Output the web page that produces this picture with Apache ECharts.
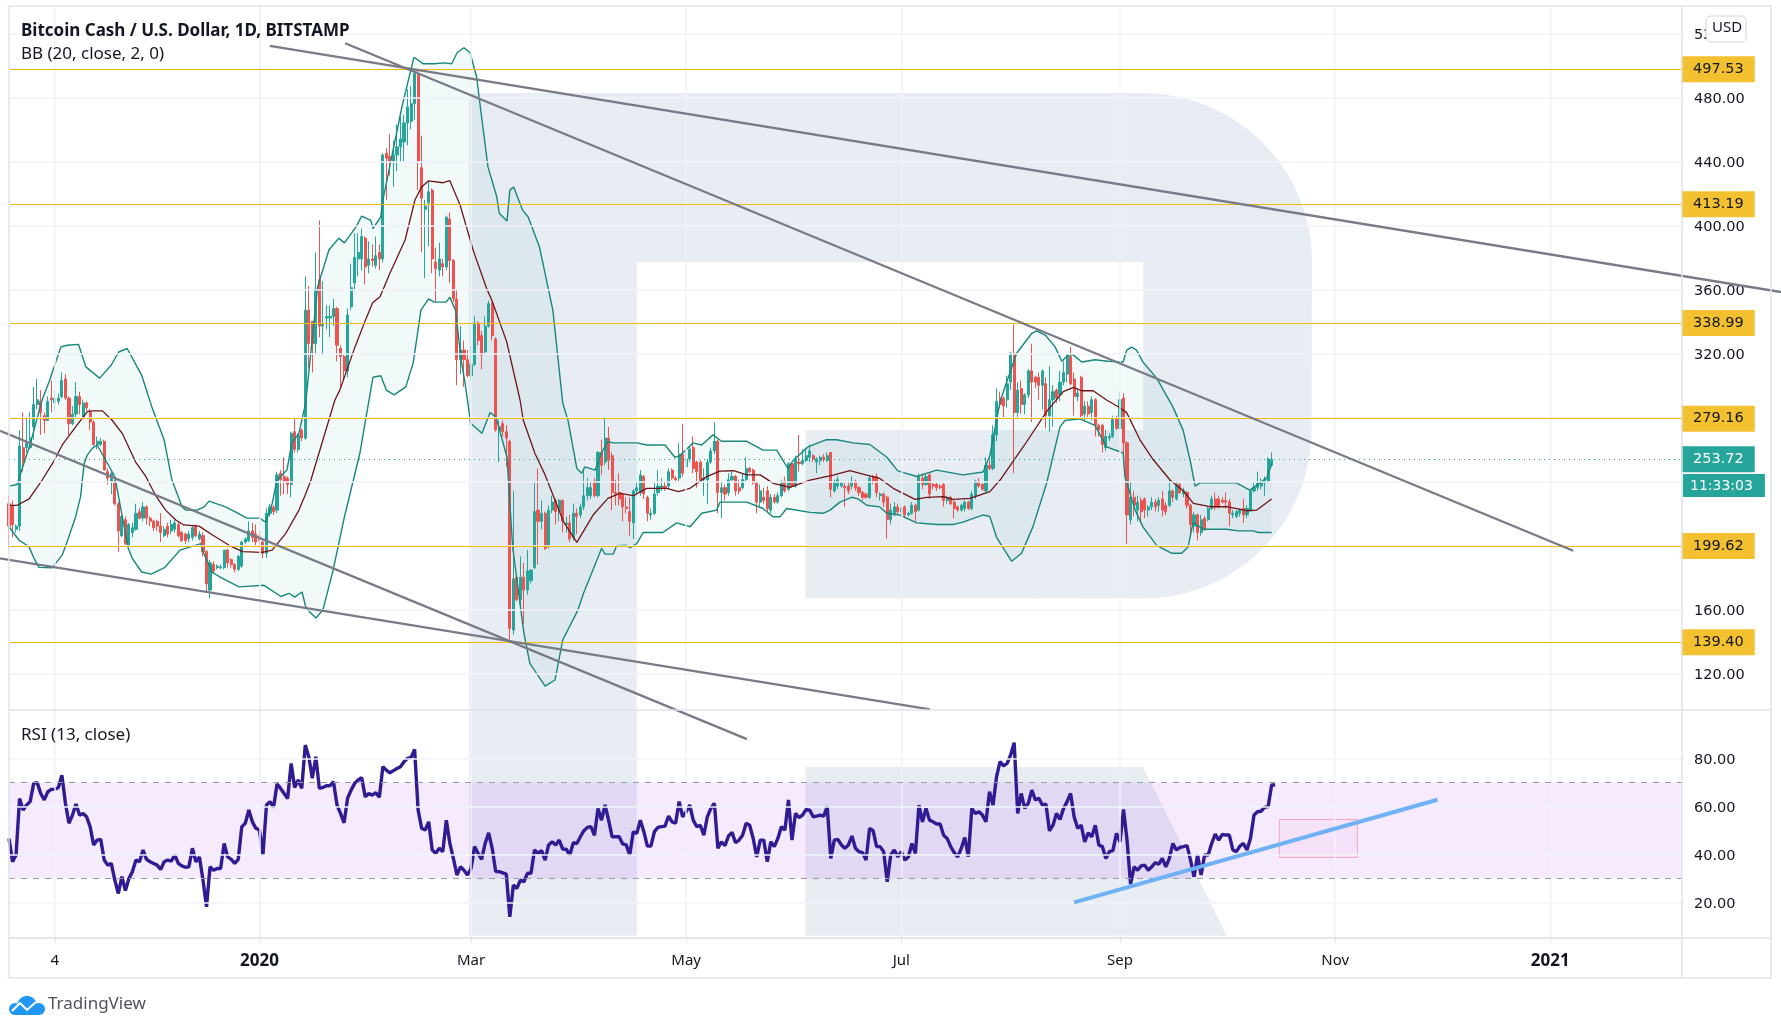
<!DOCTYPE html>
<html>
<head>
<meta charset="utf-8">
<style>html,body{margin:0;padding:0;background:#fff}#chart{width:1781px;height:1030px}</style>
<script src="https://cdn.jsdelivr.net/npm/echarts@6/dist/echarts.min.js"></script>
</head>
<body>
<div id="chart"></div>
<script>
// x axis is days since 2020-01-01
var firstCandleDay = -71
var xTickDays = [-58, 0, 60, 121, 182, 244, 305, 366]
var xTickLabels = ['4', '2020', 'Mar', 'May', 'Jul', 'Sep', 'Nov', '2021']
var priceGridValues = [520, 480, 440, 400, 360, 320, 280, 240, 200, 160, 120]
var priceTickLabels = [520, 480, 440, 400, 360, 320, 160, 120]
var rsiTicks = [80, 60, 40, 20]
var levels = [497.53, 413.19, 338.99, 279.16, 199.62, 139.40]
var lastPrice = 253.72

// open, close, low, high
var candles = [
[226,212,198,231],[225,213,205,228],[210,212,208,213],[212,262,209,272],[261,252,246,283],[261,264,258,280],[261,267,260,283],[274,288,266,299],
[288,291,285,304],[290,283,269,297],[281,278,270,283],[278,290,278,293],[292,291,283,303],[289,292,284,297],[290,292,288,295],[293,303,292,308],
[304,292,291,307],[292,276,269,293],[276,282,275,287],[282,293,280,302],[293,288,282,296],[280,289,279,291],[289,286,284,290],[283,277,272,285],
[277,263,262,278],[263,265,260,268],[263,265,262,267],[265,247,247,266],[246,242,238,248],[240,245,232,247],[240,226,225,241],[226,209,196,227],
[206,218,205,219],[216,201,200,218],[200,213,199,214],[208,211,205,214],[210,220,209,226],[221,217,216,223],[217,224,215,227],[224,217,213,225],
[217,215,212,218],[215,211,209,216],[215,212,209,216],[212,208,202,220],[206,210,205,212],[212,207,205,214],[209,213,207,216],[210,214,208,216],
[213,206,205,215],[208,203,202,209],[207,203,201,208],[204,207,202,209],[205,211,203,212],[212,206,205,213],[204,207,203,209],[206,196,193,208],
[196,176,171,197],[172,189,167,191],[188,184,182,190],[186,187,185,188],[186,186.5,185,188],[186,197,185,197],[197,189,186,198],[191,188,186,192],
[188,185,183,189],[185,193,184,194],[187,202,186,203],[202,204,201,205],[203,209,202,215],[209,205,202,214],[207,202,200,213],[206,203,200,209],
[202,195,192,203],[195,220,192,223],[220,224,218,226],[224,221,219,225],[222,244,220,246],[245,241,231,247],[243,240,232,255],[242,238,232,243],
[238,270,230,271],[271,260,258,279],[260,269,258,270],[272,267,265,273],
[267,347,266,368],[347,326,311,362],[340,326,308,340],[326,360,319,383],[366,337,330,403],[337,338,319,365],[342,343,335,350],[342,343,330,350],
[343,348,337,354],[348,325,315,349],[323,318,298,325],[318,309,303,319],[309,344,305,348],[349,361,347,376],[364,380,360,395],[379,383,368,395],
[379,393,372,398],[392,374,363,393],[375,379,370,390],[379,378,374,388],[375,381,373,393],[383,379,372,388],[379,444,377,445],[445,442,416,448],
[443,440,431,457],[440,444,424,453],[444,449,434,463],[449,454,440,468],[452,464,440,469],[464,474,450,485],[465,476,460,487],[476,495,466,497.5],
[495,440,422,497],[436,417,383,456],[410,412,367,416],[414,421,387,427],[422,379,370,423],[377,373,352,386],[372,379,368,389],[376,374,368,379],
[374,405,372,406],[404,378,364,408],[378,354,352,379],[354,316,300,360],[316,322,307,337],[322,316,299,328],[316,306,305,322],[306,313,303,324],
[313,339,312,343],[339,328,325,340],[331,319,310,334],[321,337,320,343],[337,351,336,353],[351,331,328,352],[329,272,271,330],[272,274,252,278],
[276,271,268,278],[271,267,249,275],[265,148,141,266],[147,179,144,234],[180,166,165,181],[166,180,162,193],[180,172,151,189],[172,184,169,197],
[178,184.5,176,185],[186,221,185,239],[222,215,188,248],[215,220,210,228],[220,198,197,221],[199,222,198,225],[222,227,220,231],[228,221,213,229],
[221,228,215,229],[228,215,208,229],[213,214,208,218],[214,204,202,219],[205,220,203,226],[220,218,207,223],[219,224,217,226],[224,231,222,248],
[231,236,228,242],[231,236,229,240],[240,231,230,242],[231,258,230,259],[258,250,244,266],[252,267,250,280],[267,253,247,274],[256,233,222,258],
[233,232,225,241],[233,229,225,245],[232,224,215,233],[224,223,220,230],[221,215,206,230],[214,234,204,235],[234,236,232,240],[233,244,231,247],
[243,232,229,244],[230,220,215,231],[219,220,216,223],[220,232,219,239],[233,237,231,247],[236,237,234,242],[237,236,234,240],[237,246,235,248],
[247,242,241,248],[242,241,240,243],[242,257,240,264],[257,245,243,276],[249,254,249,259],[254,260,252,262],[261,248,245,268],[252,246,236,253],
[252,241,240,253],[241,242,231,248],[241,252,226,254],[252,259,251,261],[259,265,257,277],[265,233,220,266],[233,236,217,240],[236,232,228,238],
[233,241,231,245],[241,243,240,246],[243,234,231,244],[236,234,232,241],[236,241,235,245],[241,248,240,255],[248,246,245,249],[247,239,238,248],
[239,227,220,240],[227,234,224,238],[230,228,226,236],[234,223,221,237],[222,230,220,232],[230,227,226,232],[227,231,226,233],[231,239,230,241],
[240,234,233,243],[235,251,234,252],[251,237,236,252],[237,254,236,256],[252,251,246,269],[251,253,250,260],[253,256,252,261],[255,259,252,263],
[256,254,252,257],[252,254,245,255],[253,255,250,256],[255,254,252,257],[253,256,252,258],[258,235,230,258],[234,240,233,241],[237,241,235,243],
[237,239,236,240],[237,236,224,239],[237,234,232,240],[237,240,235,243],[240,236,234,241],[236,233,231,237],[233,230,228,234],[232,230,229,233],
[230,242,229,244],[243,240,238,244],[243,233,230,245],[231,232,228,233],[232,227,224,233],[230,216,204,231],[216,222,213,226],[220,224,218,227],
[224,221,219,226],[221,223,218,226],[224,219,217,225],[219,220,218,221],[220,225,219,227],[225,221,215,226],[222,243,221,245],[242,238,235,245],
[238,243,237,245],[244,232,229,245],[238,237,235,239],[238,236,234,239],[237,236,235,238],[238,228,224,239],[228,230,226,231],[230,226,225,231],
[227,223,217,228],[224,222,221,225],[222,225,221,226],[223,227,221,228],[227,223,222,228],[223,232,222,234],[231,240,229,241],[240,237,236,242],
[238,235,234,239],[234,250,233,255],[250,248,247,253],[248,269,247,275],[269,290,265,298],[292,288,286,296],[292,287,280,293],[291,301,286,306],
[302,320,297,321],[320,283,245,338],[283,297,279,302],[298,288,282,303],[288,294,282,295],[294,309,292,310],[309,302,277,326],[305,302,298,306],
[305,300,291,308],[300,309,285,310],[301,281,273,305],[281,291,271,312],[291,296,274,300],[297,292,289,298],[294,302,290,309],[302,308,300,315],
[307,319,302,320],[318,301,300,324],[304,293,281,308],[293,295,290,298],[305,281,280,306],[282,287,278,290],[287,282,280,290],[283,291,278,293],
[291,275,268,292],[275,272,268,276],[275,263,258,276],[261,268,259,272],[267,268,265,270],[268,279,267,281],[279,273,272,281],[273,291,272,296],
[292,264,250,295],[264,219,201,265],[216,230,213,240],[230,225,218,234],[222,227,215,231],[228,221,214,230],[229,222,217,230],[222,224,218,225],
[224,227,222,230],[227,224,221,229],[225,228,221,230],[229,222,218,234],[225,221,219,227],[225,234,224,241],[234,230,227,235],[229,238,228,240],
[238,233,232,239],[232,234,230,236],[233,225,223,234],[225,213,207,226],[212,219,208,221],[219,208,203,220],[208,216,206,219],[217,210,209,218],
[216,223,215,224],[223,229,222,231],[229,224,222,233],[229,224,223,231],[228,227,226,230],[228,227,223,233],[227,220,212,229],[219,220,217,222],
[218,221,217,222],[220,222,218,223],[223,219,214,229],[219,223,217,225],[222,234,221,235],[234,236,233,240],[236,239,234,246],[237,240,235,242],
[239,241,231,243],[240,254,239,255],[250,253.7,249,258]
]

// bollinger lines as [day, price] vertices
var bbUpper = [[-71,237],[-68.7,238],[-64.9,264],[-61.6,291],[-59.5,303],[-56.3,324],[-54.5,325],[-51.3,325.6],[-49.2,311.5],[-45.3,304.5],[-42,312.7],[-39.9,320.8],[-37.5,323],[-33.4,306.4],[-30.5,286.5],[-27,265.8],[-24.8,240.8],[-21.9,224],[-20.9,222],[-17.7,222],[-15.7,224],[-14.3,227.6],[-9.6,224],[-6.7,220.8],[-3.5,217],[0,217],[1.8,214.5],[3.6,226],[5,240.8],[7.8,247],[9.2,264],[11.2,270],[13.1,288.8],[16.5,361.5],[19.7,384.6],[22.5,392],[24.1,389],[27.4,399],[29,405.8],[31.6,403],[32.2,398],[34.4,405.2],[35,415.8],[40.4,474],[43.8,505],[46.4,501],[49.5,501],[52.3,501.5],[54.5,501],[56.1,508],[58,511],[59.7,508],[61.6,492.7],[63,467.7],[64.8,436.5],[67.3,417.8],[68,407.6],[70.2,402.7],[71,422],[72.1,424],[74.6,409.5],[76.2,405.2],[79.4,386.5],[83.2,347],[86,289],[87.5,278],[90,248],[91.4,245],[92.3,249],[95.2,247],[97,258],[98.8,264.8],[100.3,264],[107,264],[109.8,262.7],[115,262.7],[117.8,255],[119.2,256],[122.9,264],[125.4,262.7],[128.6,269],[131,265],[138.2,265],[142.8,259.5],[146.7,259.5],[149,251],[149.9,248],[151.3,253],[155.5,261.5],[160.8,266],[163.7,266],[168.3,264],[173.1,263],[177.9,255],[181,246.5],[186.4,243],[192,247],[199.5,244],[205.2,245.8],[207.1,256],[209,278],[210,290],[214.7,320],[219,332.5],[220.4,334],[222.8,331.4],[225.6,324],[227.5,315],[229.3,319],[230.7,319],[233.2,314.6],[236.9,316],[240.6,315],[244.9,314.6],[245.9,322],[247.3,323.8],[248.7,322],[250.5,314.6],[254.4,304.5],[259,286.5],[261.9,272],[263.9,253],[265.3,237],[266.7,239],[270.4,239],[277,239],[280.8,234.5],[283.7,239],[285.6,242],[287,251]]
var bbLower = [[-71,211.6],[-68.2,203.3],[-65.3,199],[-63.9,191.8],[-62.5,186.2],[-58.7,186],[-55.9,194],[-54.5,202.3],[-52.1,217.9],[-50.7,230.4],[-49.7,251],[-48.8,256.4],[-47.4,260.6],[-46,262.7],[-41,243],[-38.8,217],[-37.3,199],[-36.1,192],[-33.4,183.3],[-30.7,182],[-26.9,186],[-22.5,197],[-16.6,201],[-16,196],[-13.3,183],[-10.6,179.5],[-5.8,174],[1.3,175],[6.1,168],[8.4,170],[10,167.6],[12.1,170.8],[13.2,160.8],[16,154.6],[18,159.5],[20.9,184.5],[24.1,217.7],[28.5,257.7],[30.6,284.6],[32.2,305],[34.4,306],[36,297],[38.2,294],[41.5,299],[43.6,314],[45.8,347],[48,354],[49.5,352],[52.9,352],[54,355],[55.6,347],[57.2,315.8],[58.3,301.4],[59.9,276.3],[63.1,270],[65.4,283],[67.1,280],[70.2,255],[71.8,199],[75,145],[76.7,126],[81,112],[83.8,115.8],[86,140.8],[90.3,159.5],[91.9,170],[95.7,190.8],[97,198],[98,194.5],[100.3,194.5],[101.3,199.7],[104.1,200],[105.1,198.6],[107,201],[108.8,208],[114.4,208],[118.3,214],[122.1,211.6],[125.4,220],[129.7,222],[130.6,227],[138.2,227],[142.8,223],[145.6,217.8],[147.6,217.8],[149.5,223],[156.1,220.6],[159.8,220],[161.8,222],[164.6,227],[167.9,230],[169.7,229],[172.2,225],[175.9,224],[177.9,220],[181.6,218.9],[186.4,214],[192,213],[196.6,213],[199.5,214.5],[203.4,217.6],[205.2,218.9],[207.1,218],[209,205],[213.3,190],[216.1,195],[219.3,211.5],[223.2,238.8],[227,274],[228.4,278],[232.6,279],[236.9,275],[240.2,261.5],[244.9,257.7],[245.4,242.8],[248.3,222],[250.5,211.5],[254.4,200],[258.7,195],[261.5,195],[263.3,199],[264.7,214],[267.8,210],[274.3,210],[277.5,209],[281.8,209],[283.2,208],[287,208]]
var bbBasis = [[-71,225],[-68.7,225],[-65.3,229],[-61.6,240.8],[-58.7,251],[-55.9,262.7],[-52.1,274],[-48.8,283.5],[-47.4,284],[-44.5,284],[-41.7,278],[-38.9,270],[-35.1,252],[-32.2,243],[-29.4,231],[-26.6,222],[-23.7,215.8],[-21.4,212.7],[-17.1,212],[-13.3,206.4],[-8.6,200],[-4.8,196],[0.8,195.6],[3.6,197],[7.5,207.5],[11.2,222],[13.1,232],[14.5,240],[21.4,290.8],[22.8,297],[27.1,324],[29.9,339.8],[32.1,351.6],[34.2,355.4],[37,370],[41.3,390.8],[44.1,415.8],[46,424],[47.9,427.7],[52.1,426.6],[54,427.9],[56.9,412.7],[60.6,384.5],[64.4,360.6],[66.1,352],[70.1,327.3],[73.9,290.8],[74.8,278.3],[78.1,257.5],[81,244],[83.8,228.3],[86.2,214.8],[90,201.8],[94.6,218.9],[98.8,229.3],[102.2,232.5],[106,231],[109.8,235.6],[115.5,235.6],[118.8,233.5],[122.1,235.6],[126.8,242.9],[130.6,246.4],[134.4,246.6],[138.2,244],[142,244],[145.7,238.7],[150.4,236.2],[156.1,240.8],[162.7,243.9],[167.4,246.6],[172.2,243.9],[175.9,241.8],[179.7,235.6],[185.9,228.7],[189.2,230],[193.9,230.4],[196.7,228.7],[201.5,229.3],[207.1,233.5],[210,240.8],[216.6,261.6],[223.2,283.5],[227.9,296],[230.8,298.7],[233.1,296.6],[236.4,296.6],[240.2,290.8],[243.5,286.6],[245.9,282.9],[249.7,265.8],[253.5,253.3],[258.2,240.8],[262,234],[264.8,226.2],[269.5,224.1],[274.2,224.1],[279.9,221.6],[282.8,222],[287,229]]

// daily rsi, same days as candles
var rsiValues = [46.7,37,39.8,63.3,58.5,60.6,62,69.6,69.9,65.4,62.7,66.1,67.1,67.1,67.9,73,61.3,53,56.4,61,56.4,57.1,55.7,51.6,44,46,46.3,37.7,35.6,36.3,29.4,23.8,30.8,25,30,32.9,37.7,37,41.9,38,37,36.3,35.6,33.8,37,37.7,37.3,39.8,36.3,35.3,34.7,34.9,42.6,37,39,29.4,18.3,34.9,33.5,34.2,34.2,44.6,39,38,36.3,38,51.6,53,58.5,53.6,50.9,50.2,39.8,60.6,62,59.6,69.3,67.5,65.4,63.3,77.9,67.9,71,67.5,85.5,80.7,71.7,80.7,67.5,67.9,68.6,68.6,70.3,60.6,57.1,53.2,63.4,66.8,69.6,71,72,64,65.4,64.7,65.7,63.8,76.5,75.1,74,74.9,75.8,76.5,78.6,80,80.4,83.7,58.5,50.9,50.2,53.6,41.9,40.5,42.6,41.2,54.3,44.6,38.4,31.5,34.9,33.5,31.5,34.2,43.3,40.5,38,44.6,49,42.6,32.9,32.9,32.4,31.9,14.1,27.3,25.9,29.4,28.7,32.2,32.2,41.9,40.5,41.6,37.7,44,45.3,44,46,42.3,42.2,39.8,44.9,44.6,47.4,49.9,51.3,51.6,48,59.2,54.3,60.6,54.3,47.4,47.4,47.4,44.4,44,39.8,49.5,48.8,54.3,49.5,43.5,43.5,49.5,51.3,51.6,51.8,56,53.6,53,62,55.7,57.8,60.6,54.3,51.6,
52.2,48.1,55.7,59.2,61.3,42.6,45.3,43.7,47.7,49.2,44.9,46,48,53,52.2,46.7,39,46,46,37,45.3,43.3,46.7,51.6,50.2,62.7,46,57.1,55.4,56.4,58.8,58.5,55.7,56,56.4,56,59.9,38.4,46,46.3,44,42.6,44,47.7,42.6,41.2,40.8,37.7,50.9,49.9,43.3,43.3,41.2,28.7,39.8,41.9,39.1,41.2,37.7,39,44.6,40.5,60.6,53.6,59.2,54.3,53.6,52.7,52.7,48,46.7,43.3,40.8,39,42.6,47.1,39.1,59.2,57.1,57.8,56.4,53.6,66.1,60.6,72.4,78.6,76.9,77.9,81.4,86.5,57.1,65.4,59.2,61.3,66.8,62.7,63.4,60.6,61,49.9,52.2,57.1,54.6,59.2,62,65.4,55.7,50.9,52.2,45.3,49,47.4,52.2,44,43.3,38.4,41.2,41.6,48.8,45.3,58.8,46,27.7,34.9,33.5,35.3,35.6,33.5,34.9,36.6,36,38.4,34.9,38.4,44.6,41.9,43,43.3,43.7,37.7,30.8,39.8,31.5,39.8,39.8,44.6,48.5,46,48.4,48.1,48.1,41.9,41.2,43.5,44.6,41.9,46.7,56.4,57.8,58,59.6,59.9,68.9,68.9]

// drawn trend lines, [day, price] ends
var fanLines = [
  [[2.95,512.06],[431.4,358.3]],
  [[24.3,513.75],[372.5,196.6]],
  [[-73.55,271.6],[138.2,78.9]],
  [[-73.55,191.9],[190.1,97.5]]
]
var rsiTrend = [[231,20.1],[334,62.8]]
var rsiBox = [[289.2,54.6],[311.3,38.8]]

var candleRows = candles.map((c, i) => [firstCandleDay + i, c[0], c[1], c[2], c[3]])
var rsiRows = rsiValues.map((v, i) => [firstCandleDay + i, v])

var faint = '#f0f3fa'
var edge = '#e0e3eb'
var gridMark = (hValues, vValues) => ({
  silent: true, symbol: 'none', animation: false, label: {show: false},
  lineStyle: {color: faint, width: 1.5, type: 'solid'},
  data: hValues.map(v => ({yAxis: v})).concat(vValues.map(v => ({xAxis: v})))
})
var tag = (bg, color) => ({
  show: true, position: 'end', distance: 0, formatter: p => p.value.toFixed(2),
  backgroundColor: bg, color: color, borderColor: bg, borderWidth: 1,
  fontFamily: 'DejaVu Sans', fontSize: 14.5, padding: [7, 10, 2, 11]
})
var valueAxis = (grid, min, max, ticks, labels) => ({
  type: 'value', gridIndex: grid, position: 'right', min: min, max: max, scale: true,
  axisLine: {show: true, lineStyle: {color: edge, width: 1.5}},
  axisTick: {show: true, length: 5, customValues: ticks, lineStyle: {color: edge}},
  axisLabel: {show: true, customValues: labels, margin: 12,
    formatter: v => '{n|' + v.toFixed(2) + '}',
    rich: {n: {padding: [4, 0, 0, 0], color: '#131722', fontFamily: 'DejaVu Sans', fontSize: 14.5}}},
  splitLine: {show: false}
})
var line = (name, data, color, width, extra) => Object.assign({
  name: name, type: 'line', data: data, showSymbol: false, silent: true,
  lineStyle: {color: color, width: width}, z: 4
}, extra)
// quarter circle, used for the watermark bowl and the logo
var arc = (cx, cy, r, from, to) => {
  var pts = []
  for (var i = 0; i <= 24; i++) {
    var a = (from + (to - from) * i / 24) * Math.PI / 180
    pts.push([cx + r * Math.cos(a), cy + r * Math.sin(a)])
  }
  return pts
}
var watermarkR = [[469, 93]].concat(arc(1143, 262, 169, -90, 0), arc(1143, 430, 168.5, 0, 90),
  [[805.5, 598.3], [805.5, 430], [1143.3, 430], [1143.3, 262], [636.7, 262], [636.7, 935.7], [469, 935.7]])

var option = {
  animation: false,
  backgroundColor: '#fff',
  grid: [
    {left: 9, top: 6, width: 1673, height: 704},
    {left: 9, top: 710, width: 1673, height: 228},
    // same scales as the price pane, over the whole page, for lines that leave the pane
    {left: 0, top: 0, width: 1781, height: 1030}
  ],
  xAxis: [
    {type: 'value', gridIndex: 0, min: -71, max: 403.35, axisLine: {show: false}, axisTick: {show: false}, axisLabel: {show: false}, splitLine: {show: false}},
    {type: 'value', gridIndex: 1, min: -71, max: 403.35,
      axisLine: {show: true, onZero: false, lineStyle: {color: edge, width: 1.5}},
      axisTick: {show: true, length: 5, customValues: xTickDays, lineStyle: {color: edge}},
      axisLabel: {show: true, customValues: xTickDays, margin: 15, color: '#131722', fontFamily: 'Noto Sans', fontSize: 15,
        formatter: v => {
          var s = xTickLabels[xTickDays.indexOf(v)]
          return s.length == 4 ? '{y|' + s + '}' : s
        },
        rich: {y: {fontWeight: 'bold', fontFamily: 'Noto Sans', fontSize: 17, color: '#131722'}}},
      splitLine: {show: false}},
    {type: 'value', gridIndex: 2, min: -73.55, max: 431.41, show: false}
  ],
  yAxis: [
    valueAxis(0, 97.06, 537.06, priceGridValues, priceTickLabels),
    valueAxis(1, 5.3, 100.1, rsiTicks, rsiTicks),
    {type: 'value', gridIndex: 2, min: -102.9, max: 540.8, show: false}
  ],
  series: [
    line('priceGrid', [], faint, 0, {z: 1, markLine: gridMark(priceGridValues, xTickDays)}),
    {
      name: 'bbFill', type: 'custom', data: [[0, 300]], silent: true, z: 2,
      encode: {x: 0, y: 1},
      renderItem: (params, api) => ({
        type: 'polygon',
        shape: {points: bbUpper.concat(bbLower.slice().reverse()).map(p => api.coord(p))},
        style: {fill: 'rgba(38,166,154,0.06)'}
      })
    },
    line('levels', [], '#f2b90f', 0, {z: 2, markLine: {
      silent: true, symbol: 'none', animation: false,
      lineStyle: {color: '#f2b90f', width: 1.2, type: 'solid'},
      label: tag('#f3c130', '#131722'),
      data: levels.map(v => ({yAxis: v}))
    }}),
    line('last', [], '#26a69a', 0, {z: 2, markLine: {
      silent: true, symbol: 'none', animation: false,
      lineStyle: {color: '#26a69a', width: 1, type: [1, 4]},
      label: tag('#26a69a', '#fff'),
      data: [{yAxis: lastPrice}]
    }}),
    {
      name: 'BCHUSD', type: 'candlestick', data: candleRows, barWidth: 2.6, silent: true, z: 3,
      itemStyle: {color: '#26a69a', color0: '#ef5350', borderColor: '#26a69a', borderColor0: '#ef5350', borderWidth: 1}
    },
    line('upper', bbUpper, '#17877b', 1.4),
    line('lower', bbLower, '#17877b', 1.4),
    line('basis', bbBasis, '#6e1418', 1.3),
    ...fanLines.map((l, i) => line('fan' + i, l, '#787b86', 2.3, {xAxisIndex: 2, yAxisIndex: 2, z: 6})),

    line('rsiGrid', [], faint, 0, {xAxisIndex: 1, yAxisIndex: 1, z: 1, markLine: gridMark(rsiTicks, xTickDays)}),
    line('rsiBand', [], faint, 0, {xAxisIndex: 1, yAxisIndex: 1, z: 2,
      markArea: {silent: true, itemStyle: {color: 'rgba(153,21,255,0.09)'}, data: [[{yAxis: 30}, {yAxis: 70}]]},
      markLine: {silent: true, symbol: 'none', animation: false, label: {show: false},
        lineStyle: {color: '#9a9ca5', width: 1, type: [6, 6]}, data: [{yAxis: 70}, {yAxis: 30}]}
    }),
    line('RSI', rsiRows, '#311b92', 3.4, {xAxisIndex: 1, yAxisIndex: 1, z: 4}),
    line('rsiBox', [], faint, 0, {xAxisIndex: 1, yAxisIndex: 1, z: 3,
      markArea: {silent: true, itemStyle: {color: 'rgba(244,143,177,0.08)', borderColor: '#f4a6bf', borderWidth: 1},
        data: [[{xAxis: rsiBox[0][0], yAxis: rsiBox[0][1]}, {xAxis: rsiBox[1][0], yAxis: rsiBox[1][1]}]]}
    }),
    line('rsiTrend', rsiTrend, '#6fb1f5', 4, {xAxisIndex: 1, yAxisIndex: 1, z: 5})
  ],
  graphic: [
    // watermark
    {type: 'polygon', z: 0, silent: true, style: {fill: 'rgba(30,70,140,0.1)'}, shape: {points: watermarkR}},
    {type: 'polygon', z: 0, silent: true, style: {fill: 'rgba(30,70,140,0.1)'},
      shape: {points: [[805.5, 767], [1143, 767], [1226.8, 935.7], [805.5, 935.7]]}},
    // frame
    {type: 'rect', z: 50, silent: true, shape: {x: 9, y: 6, width: 1762, height: 972}, style: {fill: 'none', stroke: edge, lineWidth: 1.5}},
    {type: 'line', z: 50, silent: true, shape: {x1: 9, y1: 710, x2: 1771, y2: 710}, style: {stroke: edge, lineWidth: 1.5}},
    {type: 'line', z: 50, silent: true, shape: {x1: 9, y1: 938, x2: 1771, y2: 938}, style: {stroke: edge, lineWidth: 1.5}},
    {type: 'line', z: 50, silent: true, shape: {x1: 1682, y1: 6, x2: 1682, y2: 978}, style: {stroke: edge, lineWidth: 1.5}},
    // captions
    {type: 'text', z: 60, silent: true, x: 21, y: 23, style: {text: 'Bitcoin Cash / U.S. Dollar, 1D, BITSTAMP', fill: '#131722', font: 'bold 17px "Noto Sans"'}},
    {type: 'text', z: 60, silent: true, x: 21, y: 46, style: {text: 'BB (20, close, 2, 0)', fill: '#131722', font: '17px "Noto Sans"'}},
    {type: 'text', z: 60, silent: true, x: 21, y: 727, style: {text: 'RSI (13, close)', fill: '#131722', font: '17px "Noto Sans"'}},
    // USD button
    {type: 'rect', z: 70, silent: true, shape: {x: 1706, y: 16, width: 40, height: 26, r: 5}, style: {fill: '#fff', stroke: '#d1d4dc', lineWidth: 1}},
    {type: 'text', z: 71, silent: true, x: 1712, y: 20, style: {text: 'USD', fill: '#131722', font: '15px "Noto Sans"'}},
    // countdown under the last price
    {type: 'text', z: 70, silent: true, x: 1683, y: 474, style: {text: '11:33:03', fill: '#fff', font: '14px "DejaVu Sans"', backgroundColor: '#26a69a', padding: [5, 12, 4, 7]}},
    // logo
    {type: 'polygon', z: 60, silent: true, style: {fill: '#2196f3'},
      shape: {points: arc(27, 1006, 10, 180, 360)}},
    {type: 'circle', z: 60, silent: true, shape: {cx: 15, cy: 1009, r: 6}, style: {fill: '#2196f3'}},
    {type: 'circle', z: 60, silent: true, shape: {cx: 39, cy: 1009, r: 6}, style: {fill: '#2196f3'}},
    {type: 'rect', z: 60, silent: true, shape: {x: 15, y: 1004, width: 24, height: 11}, style: {fill: '#2196f3'}},
    {type: 'polyline', z: 61, silent: true, shape: {points: [[12, 1011], [20, 1003], [27, 1010], [36, 1002]]}, style: {fill: 'none', stroke: '#fff', lineWidth: 2}},
    {type: 'text', z: 60, silent: true, x: 48, y: 996, style: {text: 'TradingView', fill: '#50535e', font: '17px "Noto Sans"'}}
  ]
}
var Chart = echarts.init(document.getElementById('chart'))
Chart.setOption(option)
</script>
</body>
</html>
